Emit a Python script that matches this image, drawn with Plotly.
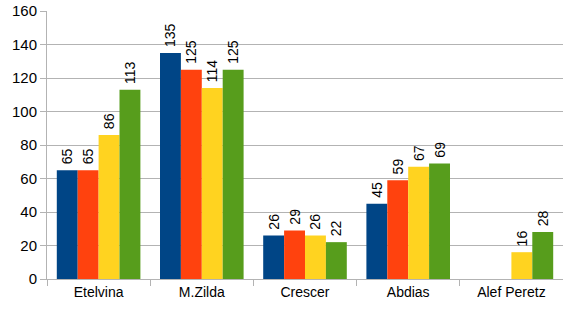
import plotly.graph_objects as go

categories = ["Etelvina", "M.Zilda", "Crescer", "Abdias", "Alef Peretz"]
series_a = [65, 135, 26, 45, None]
series_b = [65, 125, 29, 59, None]
series_c = [86, 114, 26, 67, 16]
series_d = [113, 125, 22, 69, 28]
y_ticks = [0, 20, 40, 60, 80, 100, 120, 140, 160]

colors = ["#004586", "#ff420e", "#ffd320", "#579d1c"]
names = ["Série 1", "Série 2", "Série 3", "Série 4"]

fig = go.Figure()
for name, vals, col in zip(names, [series_a, series_b, series_c, series_d], colors):
    fig.add_trace(go.Bar(
        x=categories, y=vals, name=name, marker_color=col, marker_line_width=0,
        text=[("" if v is None else "\u2009" + str(v)) for v in vals],
        textposition="outside", textangle=-90, constraintext="none",
        textfont=dict(family="Liberation Sans", size=14, color="#000000"),
        cliponaxis=False,
    ))

fig.update_layout(
    width=563, height=310,
    margin=dict(l=47, r=0, t=11, b=31),
    paper_bgcolor="white", plot_bgcolor="white",
    barmode="group", bargap=0.19, bargroupgap=0,
    showlegend=False,
    font=dict(family="Liberation Sans", size=13, color="#000000"),
    uniformtext=dict(mode=False),
)
fig.update_xaxes(
    showgrid=False, showline=True, linecolor="#b3b3b3", linewidth=1,
    ticks="outside", tickson="boundaries", ticklen=6, tickcolor="#b3b3b3",
    tickfont=dict(family="Liberation Sans", size=14, color="#000000"),
    automargin=False,
)
fig.update_yaxes(
    range=[0, 160], tickvals=y_ticks, showgrid=True, gridcolor="#b3b3b3", gridwidth=1,
    showline=True, linecolor="#b3b3b3", linewidth=1,
    ticks="outside", ticklen=6, tickcolor="#b3b3b3",
    tickfont=dict(family="Liberation Sans", size=15, color="#000000"),
    zeroline=False, automargin=False,
)
fig.write_html("out.html", config={"displayModeBar": False},
               post_script="document.body.style.margin='0';")
